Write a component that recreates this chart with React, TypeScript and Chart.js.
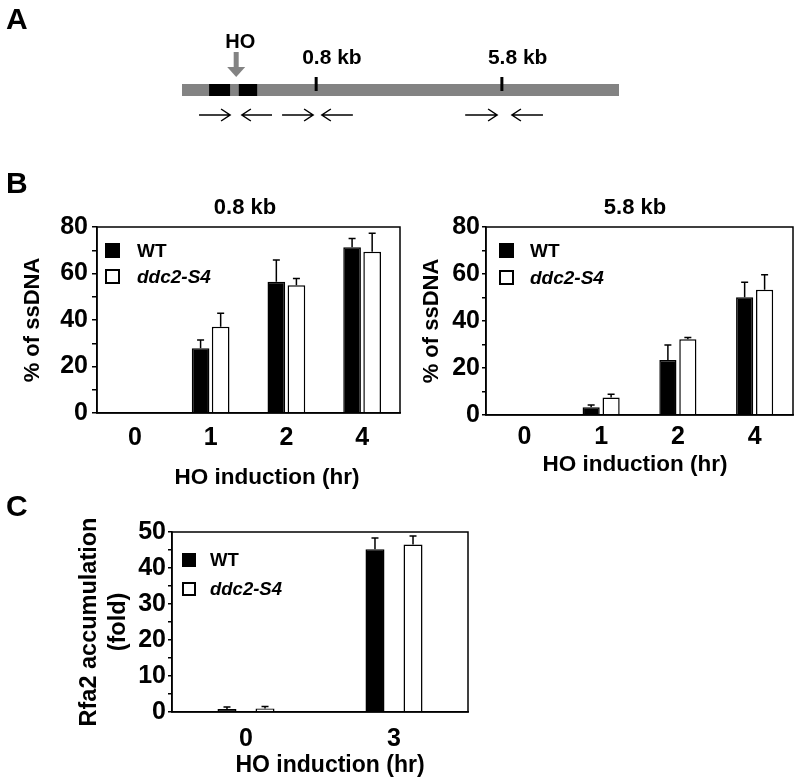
import React, { useEffect, useRef } from 'react';
import { Chart, registerables } from 'chart.js';

Chart.register(...registerables);

const FONT = '"Liberation Sans", Arial, Helvetica, sans-serif';

// ---------- Panel A: schematic map (schematic map units 0..100) ----------
const mapLabels = ['HO', '0.8 kb', '5.8 kb'];
const mapSites = [12.4, 30.7, 73.2];
const hoBoxStart = [6.2, 13.0];
const hoBoxEnd = [11.0, 17.2];
const primerFrom = [3.9, 20.6, 22.9, 39.1, 64.8, 82.6];
const primerTo = [11.0, 13.7, 30.0, 32.0, 72.1, 75.5];

// ---------- Panel B ----------
const seriesNames = ['WT', 'ddc2-S4'];
const hoursB = ['0', '1', '2', '4'];
const wt08 = [0, 27.8, 56.5, 71.3];
const wt08Err = [null, 3.6, 9.3, 3.8];
const s408 = [0, 37.1, 55.0, 69.4];
const s408Err = [null, 5.8, 2.9, 7.9];
const wt58 = [0, 3.3, 23.4, 50.1];
const wt58Err = [null, 1.0, 6.4, 6.4];
const s458 = [0, 7.5, 32.2, 53.3];
const s458Err = [null, 1.3, 0.8, 6.4];
const yTicksB = [0, 20, 40, 60, 80];

// ---------- Panel C ----------
const hoursC = ['0', '3'];
const wtRfa = [0.8, 45.2];
const wtRfaErr = [0.6, 3.1];
const s4Rfa = [1.0, 46.5];
const s4RfaErr = [0.5, 2.4];
const yTicksC = [0, 10, 20, 30, 40, 50];

// ---------- plugins ----------
const framePlugin = {
  id: 'frame',
  afterDraw(chart: any) {
    const { ctx, chartArea: a } = chart;
    ctx.save();
    ctx.strokeStyle = '#000';
    ctx.lineWidth = 1.5;
    ctx.strokeRect(a.left, a.top, a.right - a.left, a.bottom - a.top);
    ctx.restore();
  },
};

const errorBarPlugin = {
  id: 'errorBars',
  afterDatasetsDraw(chart: any, _args: any, o: any) {
    const errs = o && o.errors;
    if (!errs) return;
    const ys = chart.scales.y;
    const ctx = chart.ctx;
    ctx.save();
    ctx.strokeStyle = '#000';
    ctx.lineWidth = 1.5;
    chart.data.datasets.forEach((ds: any, i: number) => {
      const meta = chart.getDatasetMeta(i);
      meta.data.forEach((el: any, j: number) => {
        const e = errs[i] ? errs[i][j] : null;
        if (e == null) return;
        const v = ds.data[j] as number;
        const y0 = ys.getPixelForValue(v);
        const y1 = ys.getPixelForValue(v + e);
        ctx.beginPath();
        ctx.moveTo(el.x, y0);
        ctx.lineTo(el.x, y1);
        ctx.moveTo(el.x - o.cap, y1);
        ctx.lineTo(el.x + o.cap, y1);
        ctx.stroke();
      });
    });
    ctx.restore();
  },
};

const boxLegendPlugin = {
  id: 'boxLegend',
  afterDraw(chart: any, _args: any, o: any) {
    if (!o || !o.box) return;
    const a = chart.chartArea;
    const ctx = chart.ctx;
    ctx.save();
    chart.data.datasets.forEach((ds: any, i: number) => {
      const bx = a.left + o.x;
      const by = a.top + o.y + i * o.rowGap;
      ctx.fillStyle = ds.backgroundColor;
      ctx.fillRect(bx, by, o.box, o.box);
      ctx.strokeStyle = '#000';
      ctx.lineWidth = 2;
      ctx.strokeRect(bx + 1, by + 1, o.box - 2, o.box - 2);
      ctx.fillStyle = '#000';
      ctx.font = `${i === 1 ? 'italic ' : ''}bold ${o.size}px ${FONT}`;
      ctx.textAlign = 'left';
      ctx.textBaseline = 'middle';
      ctx.fillText(ds.label, a.left + o.textX, by + o.box / 2 + 1);
    });
    ctx.restore();
  },
};

const panelTextPlugin = {
  id: 'panelText',
  afterDraw(chart: any, _args: any, o: any) {
    if (!o || !o.items) return;
    const a = chart.chartArea;
    const ctx = chart.ctx;
    ctx.save();
    ctx.fillStyle = '#000';
    ctx.textAlign = 'center';
    ctx.textBaseline = 'middle';
    for (const t of o.items) {
      ctx.font = `bold ${t.size}px ${FONT}`;
      const x = (a.left + a.right) / 2 + t.dx;
      const y = t.from === 'top' ? a.top + t.dy : a.bottom + t.dy;
      ctx.fillText(t.text, x, y);
    }
    ctx.restore();
  },
};

const mapPlugin = {
  id: 'mapDraw',
  afterDraw(chart: any) {
    const ctx = chart.ctx;
    const xs = chart.scales.x;
    const px = (v: number) => xs.getPixelForValue(v);
    const gray = '#838383';
    ctx.save();
    // chromosome bar
    ctx.fillStyle = gray;
    ctx.fillRect(px(0), 84, px(100) - px(0), 12);
    // HO boxes
    ctx.fillStyle = '#000';
    hoBoxStart.forEach((s, i) => ctx.fillRect(px(s), 84, px(hoBoxEnd[i]) - px(s), 12));
    // site ticks (0.8 kb, 5.8 kb)
    ctx.strokeStyle = '#000';
    ctx.lineWidth = 3;
    mapSites.slice(1).forEach((s) => {
      ctx.beginPath();
      ctx.moveTo(px(s), 77);
      ctx.lineTo(px(s), 91);
      ctx.stroke();
    });
    // HO cut arrow
    const hx = px(mapSites[0]);
    ctx.fillStyle = gray;
    ctx.fillRect(hx - 2.5, 52, 5, 16);
    ctx.beginPath();
    ctx.moveTo(hx - 9, 67);
    ctx.lineTo(hx + 9, 67);
    ctx.lineTo(hx, 77);
    ctx.closePath();
    ctx.fill();
    // labels
    ctx.fillStyle = '#000';
    ctx.textBaseline = 'middle';
    ctx.font = `bold 20px ${FONT}`;
    ctx.textAlign = 'center';
    ctx.fillText(mapLabels[0], hx + 4, 42);
    ctx.font = `bold 21px ${FONT}`;
    ctx.textAlign = 'left';
    mapSites.slice(1).forEach((s, i) => ctx.fillText(mapLabels[i + 1], px(s) - 14, 58));
    // primers
    ctx.lineWidth = 1.5;
    primerFrom.forEach((f, i) => {
      const x0 = px(f);
      const x1 = px(primerTo[i]);
      const dir = x1 > x0 ? 1 : -1;
      const y = 115;
      ctx.beginPath();
      ctx.moveTo(x0, y);
      ctx.lineTo(x1, y);
      ctx.moveTo(x1 - dir * 9, y - 6);
      ctx.lineTo(x1, y);
      ctx.lineTo(x1 - dir * 9, y + 6);
      ctx.stroke();
    });
    ctx.restore();
  },
};

type Rect = { left: number; top: number; width: number; height: number };
type Area = { l: number; t: number; r: number; b: number };

function barConfig(p: {
  canvas: Rect;
  area: Area;
  labels: string[];
  series: number[][];
  errors: (number | null)[][];
  yMax: number;
  yStep: number;
  yMajor: number[];
  yTitle: string | string[];
  yTitleSize: number;
  yTitleX: number;
  tickLen: number;
  tickPad: number;
  xPad: number;
  catPct: number;
  barPct: number;
  legend: any;
  texts: any[];
}) {
  const { canvas: c, area: a } = p;
  const yWidth = a.l - c.left;
  const xHeight = 40;
  const lh = p.yTitleSize * 1.2;
  return {
    type: 'bar',
    data: {
      labels: p.labels,
      datasets: p.series.map((d, i) => ({
        label: seriesNames[i],
        data: d,
        backgroundColor: i === 0 ? '#000000' : '#ffffff',
        borderColor: '#000',
        borderWidth: 1.5,
        categoryPercentage: p.catPct,
        barPercentage: p.barPct,
      })),
    },
    options: {
      responsive: false,
      animation: false,
      devicePixelRatio: 1,
      layout: {
        padding: {
          left: 0,
          top: a.t - c.top,
          right: c.left + c.width - a.r,
          bottom: c.height - (a.b - c.top) - xHeight,
        },
      },
      plugins: {
        legend: { display: false },
        tooltip: { enabled: false },
        errorBars: { errors: p.errors, cap: 3.5 },
        boxLegend: p.legend,
        panelText: { items: p.texts },
      },
      scales: {
        x: {
          grid: { display: false, drawTicks: false },
          border: { display: true, color: '#000', width: 1.5 },
          ticks: {
            color: '#000',
            padding: p.xPad,
            font: { family: FONT, size: 25, weight: 'bold' },
          },
          afterFit: (s: any) => {
            s.height = xHeight;
          },
        },
        y: {
          min: 0,
          max: p.yMax,
          grid: {
            display: true,
            drawOnChartArea: false,
            drawTicks: true,
            tickLength: p.tickLen,
            color: '#000',
            lineWidth: 1.5,
          },
          border: { display: true, color: '#000', width: 1.5 },
          ticks: {
            stepSize: p.yStep,
            autoSkip: false,
            color: '#000',
            padding: p.tickPad,
            font: { family: FONT, size: 25, weight: 'bold' },
            callback: (v: any) => (p.yMajor.includes(Number(v)) ? String(v) : ''),
          },
          title: {
            display: true,
            text: p.yTitle,
            color: '#000',
            font: { family: FONT, size: p.yTitleSize, weight: 'bold', lineHeight: 1.2 },
            padding: { top: p.yTitleX - c.left - lh / 2, bottom: 0 },
          },
          afterFit: (s: any) => {
            s.width = yWidth;
          },
        },
      },
    },
    plugins: [framePlugin, errorBarPlugin, boxLegendPlugin, panelTextPlugin],
  };
}

const canvasA: Rect = { left: 0, top: 0, width: 797, height: 140 };
const canvasB1: Rect = { left: 0, top: 195, width: 410, height: 295 };
const canvasB2: Rect = { left: 405, top: 195, width: 392, height: 295 };
const canvasC: Rect = { left: 0, top: 490, width: 560, height: 289 };

export default function App() {
  const refA = useRef<HTMLCanvasElement>(null);
  const refB1 = useRef<HTMLCanvasElement>(null);
  const refB2 = useRef<HTMLCanvasElement>(null);
  const refC = useRef<HTMLCanvasElement>(null);

  useEffect(() => {
    const charts: Chart[] = [];

    charts.push(
      new Chart(refA.current as HTMLCanvasElement, {
        type: 'scatter',
        data: { datasets: [] },
        options: {
          responsive: false,
          animation: false,
          devicePixelRatio: 1,
          layout: { padding: { left: 182, right: 178, top: 0, bottom: 0 } },
          plugins: { legend: { display: false }, tooltip: { enabled: false } },
          scales: {
            x: { type: 'linear', min: 0, max: 100, display: false },
            y: { type: 'linear', min: 0, max: 1, display: false },
          },
        },
        plugins: [mapPlugin],
      } as any)
    );

    charts.push(
      new Chart(
        refB1.current as HTMLCanvasElement,
        barConfig({
          canvas: canvasB1,
          area: { l: 97, t: 227, r: 400, b: 413 },
          labels: hoursB,
          series: [wt08, s408],
          errors: [wt08Err, s408Err],
          yMax: 80,
          yStep: 10,
          yMajor: yTicksB,
          yTitle: '% of ssDNA',
          yTitleSize: 22,
          yTitleX: 33,
          tickLen: 5,
          tickPad: 4,
          xPad: 10,
          catPct: 0.53,
          barPct: 0.88,
          legend: { x: 8, y: 16, rowGap: 26, box: 15, textX: 40, size: 19 },
          texts: [
            { text: '0.8 kb', size: 22, dx: -3.5, dy: -19, from: 'top' },
            { text: 'HO induction (hr)', size: 22.5, dx: 18.5, dy: 65, from: 'bottom' },
          ],
        }) as any
      )
    );

    charts.push(
      new Chart(
        refB2.current as HTMLCanvasElement,
        barConfig({
          canvas: canvasB2,
          area: { l: 486, t: 227, r: 793, b: 415 },
          labels: hoursB,
          series: [wt58, s458],
          errors: [wt58Err, s458Err],
          yMax: 80,
          yStep: 10,
          yMajor: yTicksB,
          yTitle: '% of ssDNA',
          yTitleSize: 22,
          yTitleX: 432,
          tickLen: 4,
          tickPad: 2,
          xPad: 7,
          catPct: 0.52,
          barPct: 0.86,
          legend: { x: 13, y: 16, rowGap: 27, box: 15, textX: 44, size: 19 },
          texts: [
            { text: '5.8 kb', size: 22, dx: -4.5, dy: -19, from: 'top' },
            { text: 'HO induction (hr)', size: 22.5, dx: -4.5, dy: 50, from: 'bottom' },
          ],
        }) as any
      )
    );

    charts.push(
      new Chart(
        refC.current as HTMLCanvasElement,
        barConfig({
          canvas: canvasC,
          area: { l: 172, t: 532, r: 468, b: 712 },
          labels: hoursC,
          series: [wtRfa, s4Rfa],
          errors: [wtRfaErr, s4RfaErr],
          yMax: 50,
          yStep: 5,
          yMajor: yTicksC,
          yTitle: ['Rfa2 accumulation', '(fold)'],
          yTitleSize: 23.5,
          yTitleX: 90,
          tickLen: 4,
          tickPad: 2,
          xPad: 12,
          catPct: 0.514,
          barPct: 0.5,
          legend: { x: 10, y: 21, rowGap: 29, box: 14, textX: 38, size: 18.5 },
          texts: [{ text: 'HO induction (hr)', size: 23, dx: 10, dy: 54, from: 'bottom' }],
        }) as any
      )
    );

    return () => {
      charts.forEach((c) => c.destroy());
    };
  }, []);

  const cv = (r: Rect) => ({
    position: 'absolute' as const,
    left: r.left,
    top: r.top,
    width: r.width,
    height: r.height,
  });
  const letter = (top: number) => ({
    position: 'absolute' as const,
    left: 6,
    top,
    fontFamily: FONT,
    fontWeight: 'bold' as const,
    fontSize: 30,
    lineHeight: '30px',
    color: '#000',
  });

  return (
    <div style={{ position: 'absolute', left: 0, top: 0, width: 797, height: 779, background: '#fff', overflow: 'hidden' }}>
      <canvas ref={refA} width={canvasA.width} height={canvasA.height} style={cv(canvasA)} />
      <canvas ref={refB1} width={canvasB1.width} height={canvasB1.height} style={cv(canvasB1)} />
      <canvas ref={refB2} width={canvasB2.width} height={canvasB2.height} style={cv(canvasB2)} />
      <canvas ref={refC} width={canvasC.width} height={canvasC.height} style={cv(canvasC)} />
      <div style={letter(4)}>A</div>
      <div style={letter(168)}>B</div>
      <div style={letter(491)}>C</div>
    </div>
  );
}
